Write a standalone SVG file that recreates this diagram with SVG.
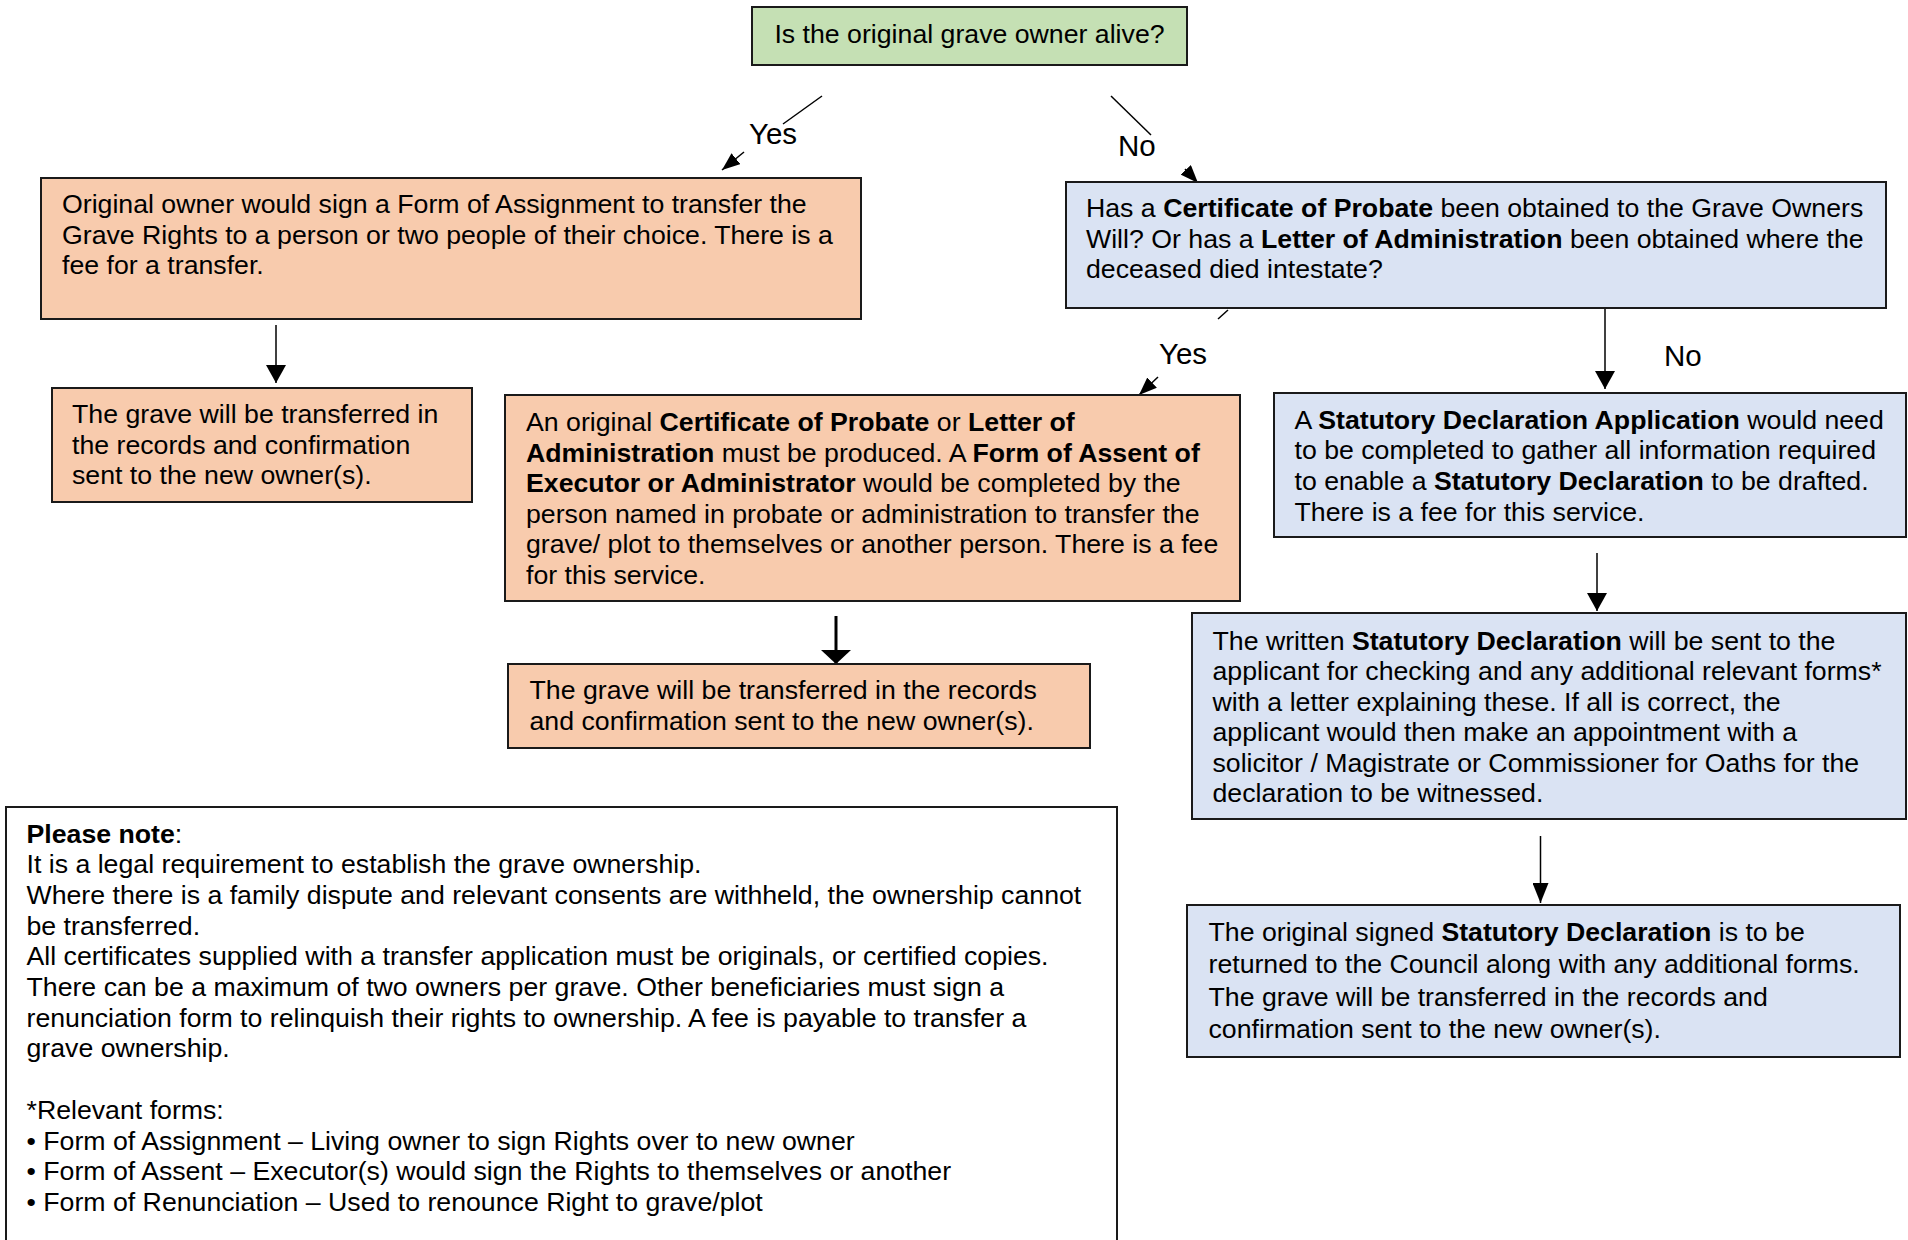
<svg xmlns="http://www.w3.org/2000/svg" width="1908" height="1240" viewBox="0 0 1908 1240">
<style>
text{font-family:"Liberation Sans",Arial,sans-serif;font-size:26.7px;fill:#000}
.b{font-weight:bold}
.box{stroke:#1a1a1a;stroke-width:2}
.g{fill:#c5e0b4}.o{fill:#f8cbad}.u{fill:#dae3f3}.w{fill:#fff}
.c{stroke:#000;stroke-width:1.5;fill:none}
.lbl{font-size:29.5px}
</style>
<defs>
<marker id="arr" markerUnits="userSpaceOnUse" markerWidth="18" markerHeight="20" refX="18" refY="10" orient="auto"><path d="M0,0 L18,10 L0,20 z" fill="#000"/></marker>
<marker id="arrN" markerUnits="userSpaceOnUse" markerWidth="20" markerHeight="16" refX="20" refY="8" orient="auto"><path d="M0,0 L20,8 L0,16 z" fill="#000"/></marker>
<marker id="arrS" markerUnits="userSpaceOnUse" markerWidth="18" markerHeight="14" refX="18" refY="7" orient="auto"><path d="M0,0 L18,7 L0,14 z" fill="#000"/></marker>
<marker id="arrT" markerUnits="userSpaceOnUse" markerWidth="14" markerHeight="30" refX="14" refY="15" orient="auto"><path d="M0,0 L14,15 L0,30 z" fill="#000"/></marker>
</defs>
<rect width="1908" height="1240" fill="#fff"/>

<g id="connectors">
<line class="c" x1="822" y1="96" x2="783" y2="124"/>
<line class="c" x1="744" y1="152" x2="722" y2="170" marker-end="url(#arrS)"/>
<text class="lbl" x="749" y="144">Yes</text>
<line class="c" x1="1111" y1="96" x2="1151" y2="135"/>
<line class="c" x1="1185" y1="169" x2="1198" y2="183" marker-end="url(#arrS)"/>
<text class="lbl" x="1118" y="156">No</text>
<line class="c" x1="276" y1="325" x2="276" y2="383" marker-end="url(#arr)"/>
<line class="c" x1="1228" y1="310" x2="1218" y2="319"/>
<line class="c" x1="1158" y1="377" x2="1139" y2="395" marker-end="url(#arrS)"/>
<text class="lbl" x="1159" y="364">Yes</text>
<line class="c" x1="1605" y1="308" x2="1605" y2="389" marker-end="url(#arr)"/>
<text class="lbl" x="1664" y="366">No</text>
<line class="c" style="stroke-width:3" x1="836" y1="616" x2="836" y2="664" marker-end="url(#arrT)"/>
<line class="c" x1="1597" y1="553" x2="1597" y2="611" marker-end="url(#arr)"/>
<line class="c" x1="1540.5" y1="836" x2="1540.5" y2="903" marker-end="url(#arrN)"/>
</g>

<g id="n-alive">
<rect class="box g" x="752" y="7" width="435" height="58"/>
<text x="969.5" y="43" text-anchor="middle">Is the original grave owner alive?</text>
</g>

<g id="n-assignment">
<rect class="box o" x="41" y="178" width="820" height="141"/>
<text x="62" y="213">Original owner would sign a Form of Assignment to transfer the</text>
<text x="62" y="243.5">Grave Rights to a person or two people of their choice. There is a</text>
<text x="62" y="274">fee for a transfer.</text>
</g>

<g id="n-transfer-left">
<rect class="box o" x="52" y="388" width="420" height="114"/>
<text x="72" y="423">The grave will be transferred in</text>
<text x="72" y="453.5">the records and confirmation</text>
<text x="72" y="484">sent to the new owner(s).</text>
</g>

<g id="n-probate-q">
<rect class="box u" x="1066" y="182" width="820" height="126"/>
<text x="1086" y="216.5">Has a <tspan class="b">Certificate of Probate</tspan> been obtained to the Grave Owners</text>
<text x="1086" y="247.5">Will? Or has a <tspan class="b">Letter of Administration</tspan> been obtained where the</text>
<text x="1086" y="278">deceased died intestate?</text>
</g>

<g id="n-probate">
<rect class="box o" x="505" y="395" width="735" height="206"/>
<text x="526" y="431">An original <tspan class="b">Certificate of Probate</tspan> or <tspan class="b">Letter of</tspan></text>
<text x="526" y="461.5"><tspan class="b">Administration</tspan> must be produced. A <tspan class="b">Form of Assent of</tspan></text>
<text x="526" y="492"><tspan class="b">Executor or Administrator</tspan> would be completed by the</text>
<text x="526" y="522.5">person named in probate or administration to transfer the</text>
<text x="526" y="553">grave/ plot to themselves or another person. There is a fee</text>
<text x="526" y="583.5">for this service.</text>
</g>

<g id="n-transfer-mid">
<rect class="box o" x="508" y="664" width="582" height="84"/>
<text x="529.5" y="698.5">The grave will be transferred in the records</text>
<text x="529.5" y="729.5">and confirmation sent to the new owner(s).</text>
</g>

<g id="n-sd-application">
<rect class="box u" x="1274" y="393" width="632" height="144"/>
<text x="1294.5" y="428.5">A <tspan class="b">Statutory Declaration Application</tspan> would need</text>
<text x="1294.5" y="459">to be completed to gather all information required</text>
<text x="1294.5" y="490">to enable a <tspan class="b">Statutory Declaration</tspan> to be drafted.</text>
<text x="1294.5" y="520.5">There is a fee for this service.</text>
</g>

<g id="n-sd-written">
<rect class="box u" x="1192" y="613" width="714" height="206"/>
<text x="1212.5" y="649.5">The written <tspan class="b">Statutory Declaration</tspan> will be sent to the</text>
<text x="1212.5" y="680">applicant for checking and any additional relevant forms*</text>
<text x="1212.5" y="710.5">with a letter explaining these. If all is correct, the</text>
<text x="1212.5" y="741">applicant would then make an appointment with a</text>
<text x="1212.5" y="771.5">solicitor / Magistrate or Commissioner for Oaths for the</text>
<text x="1212.5" y="802">declaration to be witnessed.</text>
</g>

<g id="n-sd-signed">
<rect class="box u" x="1187" y="905" width="713" height="152"/>
<text x="1208.5" y="941">The original signed <tspan class="b">Statutory Declaration</tspan> is to be</text>
<text x="1208.5" y="973.3">returned to the Council along with any additional forms.</text>
<text x="1208.5" y="1005.6">The grave will be transferred in the records and</text>
<text x="1208.5" y="1037.9">confirmation sent to the new owner(s).</text>
</g>

<g id="n-note">
<rect class="box w" x="6" y="807" width="1111" height="445"/>
<text x="26.5" y="842.5"><tspan class="b">Please note</tspan>:</text>
<text x="26.5" y="873.2">It is a legal requirement to establish the grave ownership.</text>
<text x="26.5" y="903.9">Where there is a family dispute and relevant consents are withheld, the ownership cannot</text>
<text x="26.5" y="934.6">be transferred.</text>
<text x="26.5" y="965.3">All certificates supplied with a transfer application must be originals, or certified copies.</text>
<text x="26.5" y="996">There can be a maximum of two owners per grave. Other beneficiaries must sign a</text>
<text x="26.5" y="1026.7">renunciation form to relinquish their rights to ownership. A fee is payable to transfer a</text>
<text x="26.5" y="1057.4">grave ownership.</text>
<text x="26.5" y="1118.8">*Relevant forms:</text>
<text x="26.5" y="1149.5">• Form of Assignment – Living owner to sign Rights over to new owner</text>
<text x="26.5" y="1180.2">• Form of Assent – Executor(s) would sign the Rights to themselves or another</text>
<text x="26.5" y="1210.9">• Form of Renunciation – Used to renounce Right to grave/plot</text>
</g>
</svg>
